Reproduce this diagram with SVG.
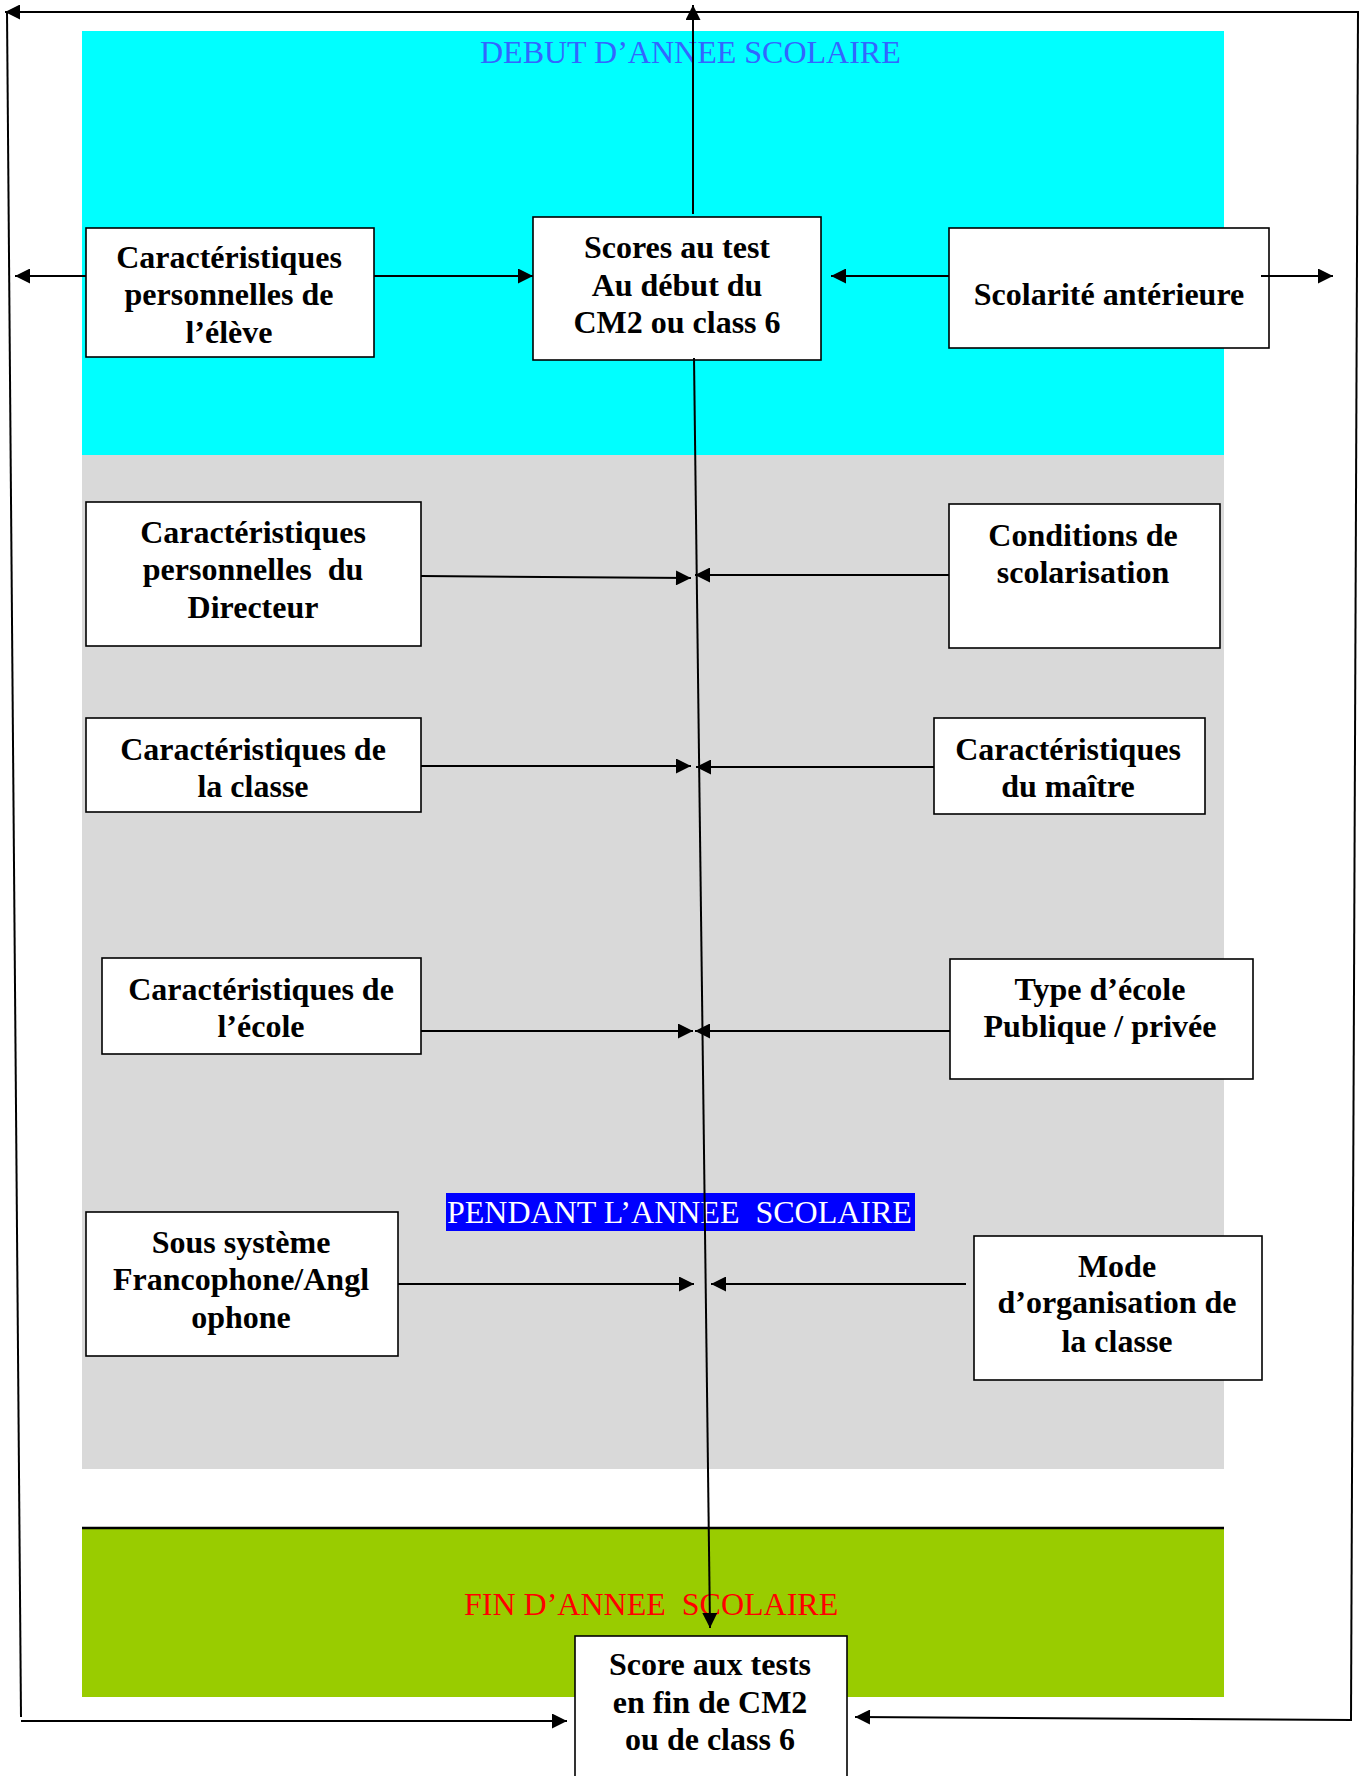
<svg xmlns="http://www.w3.org/2000/svg" width="1365" height="1776" viewBox="0 0 1365 1776">
<style>
  .box { fill: #ffffff; stroke: #000000; stroke-width: 1.6; }
  .t { font-family: "Liberation Serif", "Times New Roman", serif; font-weight: bold; font-size: 32px; fill: #000000; text-anchor: middle; }
  .band { font-family: "Liberation Serif", "Times New Roman", serif; font-size: 32px; }
  .c { fill: none; stroke: #000000; stroke-width: 2; }
</style>
<defs>
  <marker id="ah" viewBox="0 0 10 10" refX="10" refY="5" markerWidth="16" markerHeight="15" markerUnits="userSpaceOnUse" orient="auto">
    <path d="M0,0 L10,5 L0,10 z" fill="#000000"/>
  </marker>
</defs>

<g id="bands">
  <rect x="82" y="31" width="1142" height="424" fill="#00FFFF"/>
  <rect x="82" y="455" width="1142" height="1014" fill="#D9D9D9"/>
  <rect x="82" y="1528" width="1142" height="169" fill="#99CC00"/>
  <line x1="82" y1="1528" x2="1224" y2="1528" stroke="#000000" stroke-width="2.5"/>
</g>

<g id="labels">
  <text class="band" x="480" y="63" fill="#3366FF">DEBUT D’ANNEE SCOLAIRE</text>
  <rect x="446" y="1193" width="469" height="38" fill="#0000FF"/>
  <text class="band" x="447" y="1223" fill="#FFFFFF" xml:space="preserve">PENDANT L’ANNEE  SCOLAIRE</text>
  <text class="band" x="464" y="1615" fill="#FF0000" xml:space="preserve">FIN D’ANNEE  SCOLAIRE</text>
</g>

<g id="node-eleve">
  <rect class="box" x="86" y="228" width="288" height="129"/>
  <text class="t" x="229" y="268">Caractéristiques</text>
  <text class="t" x="229" y="305">personnelles de</text>
  <text class="t" x="229" y="343">l’élève</text>
</g>

<g id="node-scores-debut">
  <rect class="box" x="533" y="217" width="288" height="143"/>
  <text class="t" x="677" y="258">Scores au test</text>
  <text class="t" x="677" y="296">Au début du</text>
  <text class="t" x="677" y="333">CM2 ou class 6</text>
</g>

<g id="node-scolarite">
  <rect class="box" x="949" y="228" width="320" height="120"/>
  <text class="t" x="1109" y="305">Scolarité antérieure</text>
</g>

<g id="node-directeur">
  <rect class="box" x="86" y="502" width="335" height="144"/>
  <text class="t" x="253" y="543">Caractéristiques</text>
  <text class="t" x="253" y="580" xml:space="preserve">personnelles  du</text>
  <text class="t" x="253" y="618">Directeur</text>
</g>

<g id="node-conditions">
  <rect class="box" x="949" y="504" width="271" height="144"/>
  <text class="t" x="1083" y="546">Conditions de</text>
  <text class="t" x="1083" y="583">scolarisation</text>
</g>

<g id="node-classe">
  <rect class="box" x="86" y="718" width="335" height="94"/>
  <text class="t" x="253" y="760">Caractéristiques de</text>
  <text class="t" x="253" y="797">la classe</text>
</g>

<g id="node-maitre">
  <rect class="box" x="934" y="718" width="271" height="96"/>
  <text class="t" x="1068" y="760">Caractéristiques</text>
  <text class="t" x="1068" y="797">du maître</text>
</g>

<g id="node-ecole">
  <rect class="box" x="102" y="958" width="319" height="96"/>
  <text class="t" x="261" y="1000">Caractéristiques de</text>
  <text class="t" x="261" y="1037">l’école</text>
</g>

<g id="node-type">
  <rect class="box" x="950" y="959" width="303" height="120"/>
  <text class="t" x="1100" y="1000">Type d’école</text>
  <text class="t" x="1100" y="1037">Publique / privée</text>
</g>

<g id="node-sous-systeme">
  <rect class="box" x="86" y="1212" width="312" height="144"/>
  <text class="t" x="241" y="1253">Sous système</text>
  <text class="t" x="241" y="1290">Francophone/Angl</text>
  <text class="t" x="241" y="1328">ophone</text>
</g>

<g id="node-mode">
  <rect class="box" x="974" y="1236" width="288" height="144"/>
  <text class="t" x="1117" y="1277">Mode</text>
  <text class="t" x="1117" y="1313">d’organisation de</text>
  <text class="t" x="1117" y="1352">la classe</text>
</g>

<g id="node-scores-fin">
  <rect class="box" x="575" y="1636" width="272" height="160"/>
  <text class="t" x="710" y="1675">Score aux tests</text>
  <text class="t" x="710" y="1713">en fin de CM2</text>
  <text class="t" x="710" y="1750">ou de class 6</text>
</g>

<g id="connectors">
  <!-- outer loop -->
  <line class="c" x1="1358" y1="12" x2="5" y2="12" marker-end="url(#ah)"/>
  <line class="c" x1="7" y1="12" x2="21" y2="1717"/>
  <line class="c" x1="21" y1="1721" x2="567" y2="1721" marker-end="url(#ah)"/>
  <line class="c" x1="1358" y1="11" x2="1351" y2="1720"/>
  <line class="c" x1="1352" y1="1720" x2="855" y2="1717" marker-end="url(#ah)"/>
  <!-- up from scores -->
  <line class="c" x1="693" y1="214" x2="693" y2="5" marker-end="url(#ah)"/>
  <!-- main vertical -->
  <line class="c" x1="694" y1="358" x2="710" y2="1628" marker-end="url(#ah)"/>
  <!-- top row -->
  <line class="c" x1="374" y1="276" x2="533" y2="276" marker-end="url(#ah)"/>
  <line class="c" x1="86" y1="276" x2="15" y2="276" marker-end="url(#ah)"/>
  <line class="c" x1="949" y1="276" x2="831" y2="276" marker-end="url(#ah)"/>
  <line class="c" x1="1261" y1="276" x2="1333" y2="276" marker-end="url(#ah)"/>
  <!-- side factors -->
  <line class="c" x1="421" y1="576" x2="691" y2="578" marker-end="url(#ah)"/>
  <line class="c" x1="949" y1="575" x2="695" y2="575" marker-end="url(#ah)"/>
  <line class="c" x1="421" y1="766" x2="691" y2="766" marker-end="url(#ah)"/>
  <line class="c" x1="934" y1="767" x2="696" y2="767" marker-end="url(#ah)"/>
  <line class="c" x1="421" y1="1031" x2="693" y2="1031" marker-end="url(#ah)"/>
  <line class="c" x1="950" y1="1031" x2="695" y2="1031" marker-end="url(#ah)"/>
  <line class="c" x1="398" y1="1284" x2="694" y2="1284" marker-end="url(#ah)"/>
  <line class="c" x1="966" y1="1284" x2="711" y2="1284" marker-end="url(#ah)"/>
</g>
</svg>
